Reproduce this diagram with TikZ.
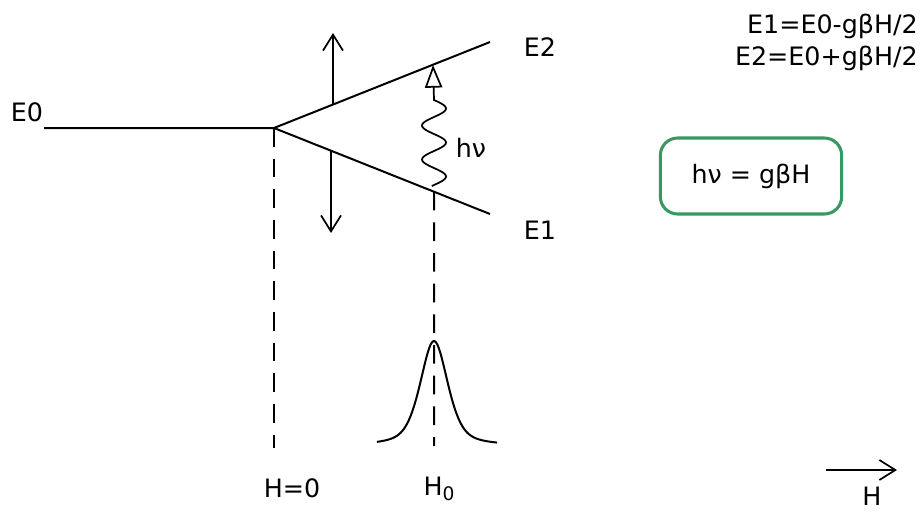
\documentclass[tikz,border=0pt]{standalone}
\usepackage{fontspec}
\setmainfont{DejaVu Sans}
\usetikzlibrary{arrows.meta,calc}
\definecolor{boxgreen}{RGB}{56,152,100}
\begin{document}
\begin{tikzpicture}[x=0.75pt,y=-0.75pt,
  every node/.style={font=\fontsize{19}{24}\selectfont, inner sep=0pt},
  level/.style={line width=1.5pt},
  guide/.style={line width=1.5pt, dash pattern=on 14pt off 9pt},
  barb/.style={-{Straight Barb[length=12pt,width=15pt]}, line width=1.3pt},
  photon/.style={-{Triangle[open,length=17pt,width=13pt]}, line width=1.3pt},
  eqbox/.style={draw=boxgreen, line width=2.3pt, rounded corners=13pt, minimum width=136pt, minimum height=57pt},
]
\useasboundingbox (0,0) rectangle (924,512);
% levels
\coordinate (e0s) at (44,128);
\coordinate (fork) at (274,128);
\coordinate (e2e) at (490,42);
\coordinate (e1e) at (490,214);
\draw[level] (e0s) -- (fork) -- (e2e);
\draw[level] (fork) -- (e1e);
% arrows on levels
\coordinate (ua) at ($(fork)!0.273!(e2e)$);
\coordinate (uatip) at (333,33);
\draw[barb] (ua) -- (uatip);
\coordinate (la) at ($(fork)!0.264!(e1e)$);
\coordinate (latip) at (331,233);
\draw[barb] (la) -- (latip);
% guides
\coordinate (g1b) at (274,448);
\draw[guide] (fork) -- (g1b);
\coordinate (g2t) at ($(fork)!0.741!(e1e)$);
\coordinate (g2b) at (434,446);
\draw[guide] (g2t) -- (g2b);
% photon
\coordinate (wtip) at (433,65);
\draw[photon] plot[smooth, domain=186:100, samples=70] ({434+12*sin(10.588*(\x-100))},{\x}) -- (wtip);
% resonance line (pseudo-Voigt)
\draw[line width=1.5pt] plot[smooth, domain=377:497, samples=100]
  ({\x},{446-52.5/(1+((\x-434)/16.7)^2)-52.5*exp(-((\x-434)^2)/378)});
% labels
\node (lE0) at (27,112) {E0};
\node (lE2) at (540,47) {E2};
\node (lE1) at (540,230) {E1};
\node (lhv) at (471,148) {hν};
\node[anchor=east, align=right] (eqs) at (918,42) {E1=E0-gβH/2\\E2=E0+gβH/2};
\node[eqbox] (box) at (751,176) {hν = gβH};
\node (lH0a) at (292,488) {H=0};
\node (lH0) at (439,489) {H\raisebox{-0.4ex}{\fontsize{14}{16}\selectfont 0}};
% field arrow
\coordinate (hs) at (826,470);
\coordinate (he) at (897,470);
\draw[barb] (hs) -- (he);
\node (lH) at (872,496) {H};
\end{tikzpicture}
\end{document}
